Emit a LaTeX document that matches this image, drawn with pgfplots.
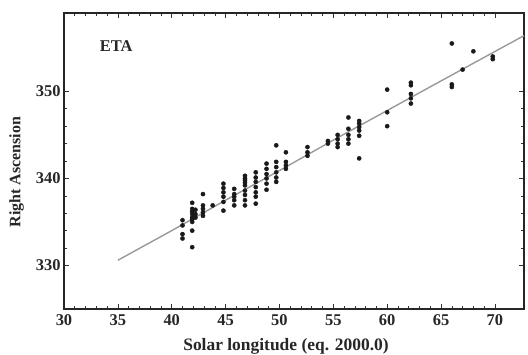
\documentclass[border=0pt]{standalone}
\usepackage{fontspec}
\setmainfont{Liberation Serif}
\usepackage{pgfplots}
\pgfplotsset{compat=1.18}
\begin{document}
\begin{tikzpicture}
\path[use as bounding box] (-64bp,-46bp) rectangle (464bp,309bp);
\begin{axis}[
  at={(0,0)}, anchor=south west,
  scale only axis, width=460bp, height=296bp,
  xmin=30, xmax=72.7, ymin=325, ymax=359,
  xtick={30,35,...,70}, ytick={330,340,350},
  minor x tick num=4, minor y tick num=4,
  tick align=inside,
  major tick length=5bp, minor tick length=3bp,
  axis line style={line width=1.3pt, black!85},
  every tick/.style={black!80, line width=0.6pt},
  /pgf/number format/assume math mode=true,
  tick label style={font=\fontsize{16.5}{18}\selectfont\bfseries, text=black!85},
  xticklabel style={yshift=-2bp},
  xlabel={Solar longitude (eq. 2000.0)},
  ylabel={Right Ascension},
  xlabel style={font=\fontsize{17.5}{19}\selectfont\bfseries, text=black!85, yshift=-6bp, xshift=-8bp},
  ylabel style={font=\fontsize{16}{18}\selectfont\bfseries, text=black!85, yshift=5bp, xshift=-11bp},
  clip=false,
]
\addplot[gray!80, line width=1.4pt] coordinates {
(35,330.6) (40,334.0) (45,337.5) (50,340.9) (55,344.4) (60,347.8) (65,351.2) (72.7,356.4)
};
\addplot[only marks, mark=*, mark size=2.1pt, black!90] coordinates {
(41,335.2) (41,334.6) (41,333.6) (41,333.1)
(41.9,337.2) (41.9,336.5) (41.9,335.9) (41.9,335.5) (41.9,335.0) (41.9,334.0) (41.9,332.1) (41.9,336.2) (41.9,335.3)
(42.2,336.4) (42.2,335.9) (42.2,335.5)
(42.9,338.2) (42.9,336.9) (42.9,336.5) (42.9,336.1) (42.9,335.7)
(43.8,336.9)
(44.8,339.4) (44.8,338.9) (44.8,338.4) (44.8,337.9) (44.8,337.3) (44.8,336.3)
(45.8,338.8) (45.8,338.2) (45.8,337.9) (45.8,337.5) (45.8,336.9)
(46.8,340.3) (46.8,339.8) (46.8,339.2) (46.8,338.6) (46.8,338.1) (46.8,337.5) (46.8,336.9) (46.8,340.0) (46.8,339.5)
(47.8,340.7) (47.8,340.1) (47.8,339.6) (47.8,339.0) (47.8,338.4) (47.8,337.9) (47.8,337.1)
(48.8,341.7) (48.8,341.1) (48.8,340.5) (48.8,340.0) (48.8,339.4) (48.8,338.7)
(49.7,343.8) (49.7,341.9) (49.7,341.3) (49.7,340.7) (49.7,340.1) (49.7,339.6)
(50.6,343.0) (50.6,341.9) (50.6,341.5) (50.6,341.1)
(52.6,343.6) (52.6,343.0) (52.6,342.6)
(54.5,344.3) (54.5,344.0)
(55.4,345.0) (55.4,344.5) (55.4,344.0) (55.4,343.6)
(56.4,347.0) (56.4,345.7) (56.4,345.0) (56.4,344.5) (56.4,344.0)
(57.4,346.6) (57.4,346.3) (57.4,345.9) (57.4,345.5) (57.4,344.9) (57.4,342.3)
(60.0,350.2) (60.0,347.6) (60.0,346.0)
(62.2,351.0) (62.2,350.7) (62.2,349.7) (62.2,349.2) (62.2,348.6)
(66,355.5) (66,350.8) (66,350.5)
(67,352.5)
(68,354.6)
(69.8,354.0) (69.8,353.7)
};
\node[anchor=west, font=\fontsize{16.5}{18}\selectfont\bfseries, text=black!85] at (axis cs:33,355.2) {ETA};
\end{axis}
\end{tikzpicture}
\end{document}
